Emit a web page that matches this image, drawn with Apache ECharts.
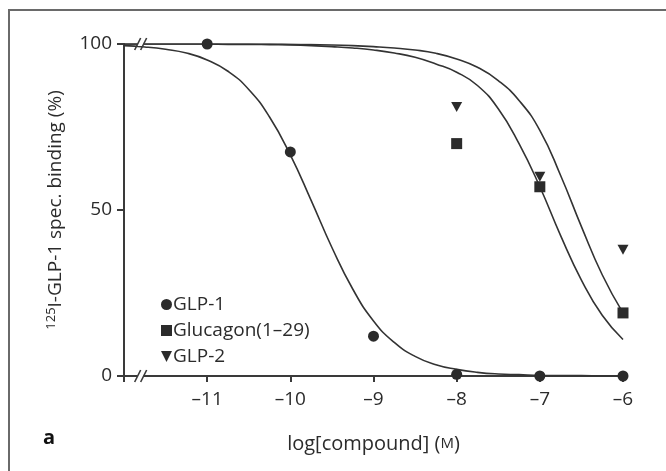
<!DOCTYPE html>
<html>
<head>
<meta charset="utf-8">
<script src="https://cdn.jsdelivr.net/npm/echarts@6/dist/echarts.min.js"></script>
<style>
html,body{margin:0;padding:0;background:#fff;}
#main{width:666px;height:471px;}
</style>
</head>
<body>
<div id="main"></div>
<script>
var curveX = [-12,-11.75,-11.5,-11.25,-11,-10.75,-10.5,-10.25,-10,-9.75,-9.5,-9.25,-9,-8.75,-8.5,-8.25,-8,-7.75,-7.5,-7.25,-7,-6.75,-6.5,-6.25,-6];
var glp1Curve = [99.5,99.1,98.4,97.3,95.2,91.8,86.3,78.0,66.6,52.9,38.7,26.2,16.6,10.1,5.9,3.4,2.0,1.1,0.6,0.4,0.2,0.1,0.1,0,0];
var glucagonCurve = [100,100,100,100,100,99.9,99.9,99.8,99.7,99.5,99.2,98.8,98.2,97.3,96,94,91.5,87.5,80.5,70,57,42.3,28.9,18.3,11];
var glp2Curve = [100,100,100,100,100,100,100,100,99.9,99.8,99.7,99.5,99.2,98.8,98.2,97.2,95.5,93,89,83,74,60.4,45,30.5,19];

// measured points
var glp1X = [-11,-10,-9,-8,-7,-6];
var glp1Y = [100,67.5,12,0.5,0,0];
var glucagonX = [-8,-7,-6];
var glucagonY = [70,57,19];
var glp2X = [-8,-7,-6];
var glp2Y = [81,60,38];

function pairs(xs, ys){
	var out = [];
	for (var i = 0; i < xs.length; i++) out.push([xs[i], ys[i]]);
	return out;
}

var ink = '#2b2b2b';
var font = 'Open Sans';
var triDown = 'path://M0,0 L10,0 L5,10 Z';

var myChart = echarts.init(document.getElementById('main'));
var option = {
	backgroundColor: '#fff',
	animation: false,
	textStyle: {fontFamily: font, color: ink},
	grid: {left: 124, right: 43, top: 44, bottom: 95},
	legend: {
		orient: 'vertical',
		left: 156,
		top: 290,
		itemWidth: 11,
		itemHeight: 11,
		itemGap: 7,
		data: [
			{name: 'GLP-1', icon: 'circle'},
			{name: 'Glucagon(1–29)', icon: 'rect'},
			{name: 'GLP-2', icon: triDown}
		],
		textStyle: {fontFamily: font, fontSize: 19, color: ink, padding: [0, 0, 0, -4]}
	},
	xAxis: {
		type: 'value',
		min: -12, max: -6, interval: 1,
		name: '{t|log[compound] (}{s|M}{t|)}',
		nameLocation: 'middle',
		nameGap: 58,
		nameTextStyle: {rich: {t: {fontFamily: font, fontSize: 20, color: ink}, s: {fontFamily: font, fontSize: 15, color: ink}}},
		axisLine: {lineStyle: {color: '#3a3a3a', width: 2}},
		axisTick: {length: 6, lineStyle: {color: '#3a3a3a', width: 2}},
		splitLine: {show: false},
		axisLabel: {
			fontSize: 19, color: ink, margin: 14, fontFamily: font,
			formatter: function(v){ return v === -12 ? '' : String(v).replace('-', '–'); }
		}
	},
	yAxis: {
		type: 'value',
		min: 0, max: 100, interval: 50,
		name: '{sup|125}{t|I-GLP-1 spec. binding (%)}',
		nameLocation: 'middle',
		nameGap: 58,
		nameRotate: 90,
		nameTextStyle: {rich: {t: {fontFamily: font, fontSize: 19, color: ink}, sup: {fontFamily: font, fontSize: 13, color: ink, verticalAlign: 'top', padding: [0,0,8,0]}}},
		axisLine: {show: true, lineStyle: {color: '#3a3a3a', width: 2}},
		axisTick: {show: true, length: 7, lineStyle: {color: '#3a3a3a', width: 2}},
		splitLine: {show: false},
		axisLabel: {fontSize: 19, color: ink, margin: 12, fontFamily: font}
	},
	series: [
		{name: 'fit GLP-1', type: 'line', data: pairs(curveX, glp1Curve), smooth: true, showSymbol: false, lineStyle: {color: '#333', width: 1.6}, z: 2},
		{name: 'fit Glucagon', type: 'line', data: pairs(curveX, glucagonCurve), smooth: true, showSymbol: false, lineStyle: {color: '#333', width: 1.6}, z: 2},
		{name: 'fit GLP-2', type: 'line', data: pairs(curveX, glp2Curve), smooth: true, showSymbol: false, lineStyle: {color: '#333', width: 1.6}, z: 2},
		{name: 'GLP-1', type: 'scatter', data: pairs(glp1X, glp1Y), symbol: 'circle', symbolSize: 11, itemStyle: {color: ink, opacity: 1}, clip: false, z: 3},
		{name: 'Glucagon(1–29)', type: 'scatter', data: pairs(glucagonX, glucagonY), symbol: 'rect', symbolSize: 11, itemStyle: {color: ink, opacity: 1}, clip: false, z: 3},
		{name: 'GLP-2', type: 'scatter', data: pairs(glp2X, glp2Y), symbol: triDown, symbolSize: [11, 10], itemStyle: {color: ink, opacity: 1}, clip: false, z: 3}
	]
};
myChart.setOption(option);

// axis break marks and the panel frame
var marks = [
	{type: 'rect', shape: {x: 9, y: 10, width: 700, height: 500}, style: {fill: 'none', stroke: '#6a6a6a', lineWidth: 2}, z: 0}
];
[0, 100].forEach(function(yv){
	var p = myChart.convertToPixel({gridIndex: 0}, [-11.8, yv]);
	marks.push({type: 'rect', shape: {x: p[0] - 3, y: p[1] - 2, width: 6, height: 4}, style: {fill: '#fff'}, z: 10});
	[-3, 3].forEach(function(dx){
		marks.push({type: 'line', shape: {x1: p[0] + dx - 3, y1: p[1] + 6, x2: p[0] + dx + 3, y2: p[1] - 6}, style: {stroke: '#3a3a3a', lineWidth: 1.6}, z: 11});
	});
});
marks.push({type: 'text', left: 43, top: 428, style: {text: 'a', font: 'bold 20px "Open Sans"', fill: '#111'}, z: 10});
myChart.setOption({graphic: marks});
</script>
</body>
</html>
